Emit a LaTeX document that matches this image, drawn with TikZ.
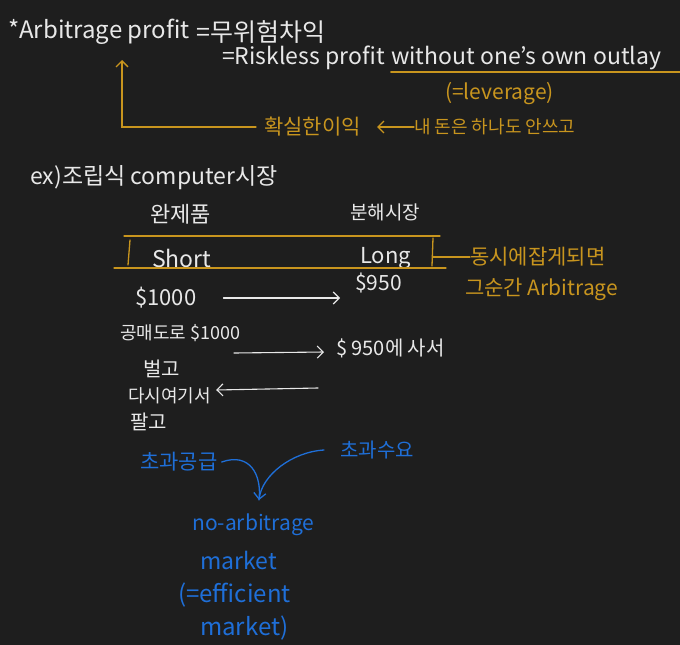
\documentclass[tikz,border=0pt]{standalone}
\usepackage{fontspec}
\setmainfont{Noto Sans CJK KR}
\usetikzlibrary{arrows.meta,positioning}
\definecolor{board}{HTML}{1E1E1E}
\definecolor{chalk}{HTML}{E8E8E8}
\definecolor{amber}{HTML}{C8951E}
\definecolor{pen}{HTML}{1F6FD8}

\begin{document}
\begin{tikzpicture}[
    x=1pt, y=-1pt,
    every node/.style={inner sep=0pt, anchor=west, font=\fontsize{20}{22}\selectfont},
    chalktext/.style={text=chalk},
    ambertext/.style={text=amber},
    pentext/.style={text=pen},
    chalkline/.style={draw=chalk, line width=1.1pt, line cap=round},
    amberline/.style={draw=amber, line width=1.3pt, line cap=round},
    penline/.style={draw=pen, line width=1.3pt, line cap=round},
    barb/.style={-{Straight Barb[length=6pt,width=12pt]}}
]
% Background
\fill[board] (0,0) rectangle (680,645);
\useasboundingbox (0,0) rectangle (680,645);

% Definition
\node[chalktext, font=\fontsize{24}{26}\selectfont] (arb) at (8,32) {*Arbitrage profit};
\node[chalktext, font=\fontsize{25}{27}\selectfont, right=6pt of arb] (kor) {=무위험차익};
\node[chalktext, font=\fontsize{23}{25}\selectfont] (risk) at (222,58) {=Riskless profit};
\node[chalktext, font=\fontsize{23}{25}\selectfont, right=6pt of risk] (outlay) {without one's own outlay};
\draw[amberline] (outlay.south west) ++(0,2) coordinate (ul) -- (680,0 |- ul);
\node[ambertext, font=\fontsize{21}{23}\selectfont] (lev) at (445,94) {(=leverage)};

% Korean gloss
\node[ambertext, font=\fontsize{21}{23}\selectfont] (sure) at (264,127) {확실한이익};
\node[ambertext, font=\fontsize{18}{20}\selectfont] (ownmoney) at (414,127) {내 돈은 하나도 안쓰고};
\draw[amberline, barb] (ownmoney.west) -- ([xshift=16pt]sure.east);
\coordinate (up) at (122,60);
\draw[amberline, barb] ([xshift=-8pt]sure.west) -| (up);

% Example
\node[chalktext, font=\fontsize{23}{25}\selectfont] (ex) at (30,178) {ex)조립식 computer시장};
\node[chalktext, font=\fontsize{22}{24}\selectfont] (whole) at (150,214) {완제품};
\node[chalktext, font=\fontsize{19}{21}\selectfont] (parts) at (350,212) {분해시장};
\node[chalktext, font=\fontsize{23}{25}\selectfont] (short) at (152,258) {Short};
\node[chalktext, font=\fontsize{22}{24}\selectfont] (long) at (360,258) {Long};

% Bracket box
\draw[amberline] (124,236) -- (440,236);
\draw[amberline] (114,268) -- (446,268);
\draw[amberline] (130,240) -- (128,265);
\draw[amberline] (433,238) -- (432,266);
\coordinate (boxr) at (433,257);
\node[ambertext, font=\fontsize{21}{23}\selectfont] (same) at (470,257) {동시에잡게되면};
\node[ambertext, font=\fontsize{21}{23}\selectfont] (moment) at (465,289) {그순간 Arbitrage};
\draw[amberline] (boxr) -- (same.west);

% Prices
\node[chalktext, font=\fontsize{22}{24}\selectfont] (p1000) at (135,298) {\$1000};
\node[chalktext, font=\fontsize{21}{23}\selectfont] (p950) at (355,283) {\$950};
\draw[chalkline, barb] ([xshift=27pt]p1000.east) -- (340,0 |- p1000.east);
\node[chalktext, font=\fontsize{18}{20}\selectfont] (shortsell) at (120,333) {공매도로 \$1000};
\node[chalktext] (buy) at (336,348) {\$ 950에 사서};
\draw[chalkline, barb] (234,353) -- ([xshift=-12pt]buy.west |- 0,352);
\node[chalktext] (earn) at (143,369) {벌고};
\node[chalktext, font=\fontsize{18}{20}\selectfont] (again) at (128,396) {다시여기서};
\draw[chalkline, barb] (318,388) -- ([xshift=5pt]again.east |- 0,390);
\node[chalktext] (sell) at (130,422) {팔고};

% Market equilibrium
\node[pentext, font=\fontsize{21}{23}\selectfont] (supply) at (140,462) {초과공급};
\node[pentext, font=\fontsize{20}{22}\selectfont] (demand) at (340,450) {초과수요};
\coordinate (meet) at (259,500);
\draw[penline] ([xshift=4pt]supply.east) .. controls (250,452) and (262,475) .. (meet);
\draw[penline, barb] ([xshift=-16pt]demand.west) .. controls (292,452) and (262,475) .. (meet);
\node[pentext, font=\fontsize{21}{23}\selectfont] (noarb) at (192,525) {no-arbitrage};
\node[pentext, font=\fontsize{23}{25}\selectfont] (mkt) at (200,560) {market};
\node[pentext, font=\fontsize{24}{26}\selectfont] (eff) at (178,595) {(=efficient};
\node[pentext, font=\fontsize{24}{26}\selectfont] (mkt2) at (200,628) {market)};
\end{tikzpicture}
\end{document}
